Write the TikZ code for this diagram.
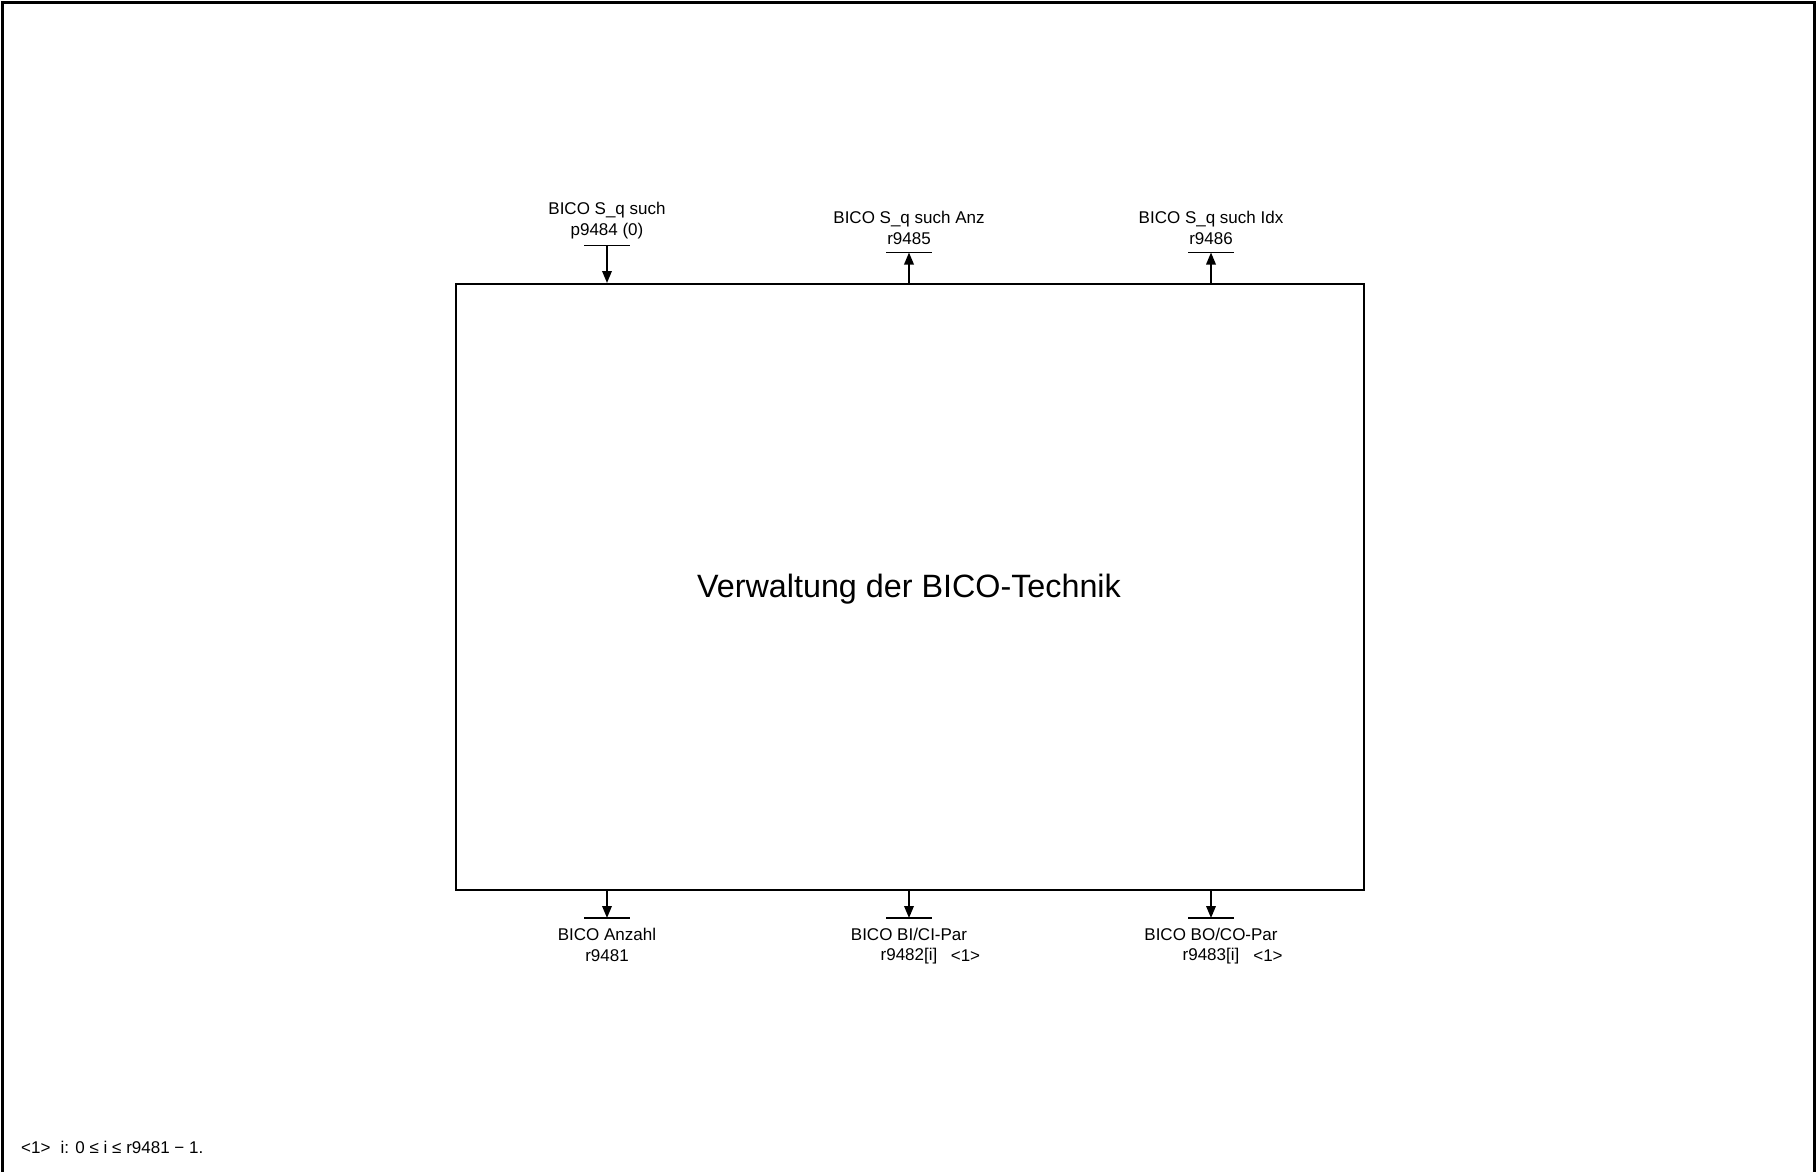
\documentclass[tikz,border=0pt]{standalone}
\usepackage{fontspec}
\setmainfont{Liberation Sans}
\usetikzlibrary{arrows.meta}
\begin{document}
\begin{tikzpicture}[x=1pt,y=-1pt,
  lbl/.style={font=\fontsize{17}{21}\selectfont, align=center, inner sep=0pt},
  sig/.style={line width=1.8pt, -{Triangle[length=12pt,width=9.5pt]}},
  tbar/.style={line width=1.8pt}]
\useasboundingbox (0,0) rectangle (1816,1172);
\draw[line width=3pt] (2.5,1172) -- (2.5,3) -- (1814.5,3) -- (1814.5,1172);
\node[draw, line width=1.8pt, minimum width=908pt, minimum height=606pt, anchor=north west, inner sep=0pt] (box) at (455,283) {};
\node[font=\fontsize{32.3}{38}\selectfont, inner sep=0pt] (title) at (909,589) {Verwaltung der BICO-Technik};
% top input
\coordinate (i1) at (607,245.5);
\draw[tbar] ([xshift=-23pt]i1) -- ([xshift=23pt]i1);
\draw[sig] (i1) -- (i1 |- box.north);
\node[lbl] (li1) at (607,221) {BICO S\_q such\\p9484 (0)};
% top outputs
\coordinate (o1) at (909,252.5);
\coordinate (o2) at (1211,252.5);
\draw[tbar] ([xshift=-23pt]o1) -- ([xshift=23pt]o1);
\draw[tbar] ([xshift=-23pt]o2) -- ([xshift=23pt]o2);
\draw[sig] (o1 |- box.north) -- (o1);
\draw[sig] (o2 |- box.north) -- (o2);
\node[lbl] (lo1) at (909,228) {BICO S\_q such Anz\\r9485};
\node[lbl] (lo2) at (1211,228) {BICO S\_q such Idx\\r9486};
% bottom outputs
\coordinate (b1) at (607,918);
\coordinate (b2) at (909,918);
\coordinate (b3) at (1211,918);
\foreach \c in {b1,b2,b3}{
  \draw[tbar] ([xshift=-23pt]\c) -- ([xshift=23pt]\c);
  \draw[sig] (\c |- box.south) -- (\c);
}
\node[lbl] (lb1) at (607,945) {BICO Anzahl\\r9481};
\node[lbl] (lb2a) at (909,934) {BICO BI/CI-Par};
\node[lbl] (lb2b) at (909,956) {r9482[i]};
\node[lbl] (lb2c) at (965.5,956) {<1>};
\node[lbl] (lb3a) at (1211,934) {BICO BO/CO-Par};
\node[lbl] (lb3b) at (1211,956) {r9483[i]};
\node[lbl] (lb3c) at (1268,956) {<1>};
% footnote
\node[lbl, anchor=west] (fn) at (21,1147) {<1>\hspace{0.6em}i: 0 ≤ i ≤ r9481 − 1.};
\end{tikzpicture}
\end{document}
